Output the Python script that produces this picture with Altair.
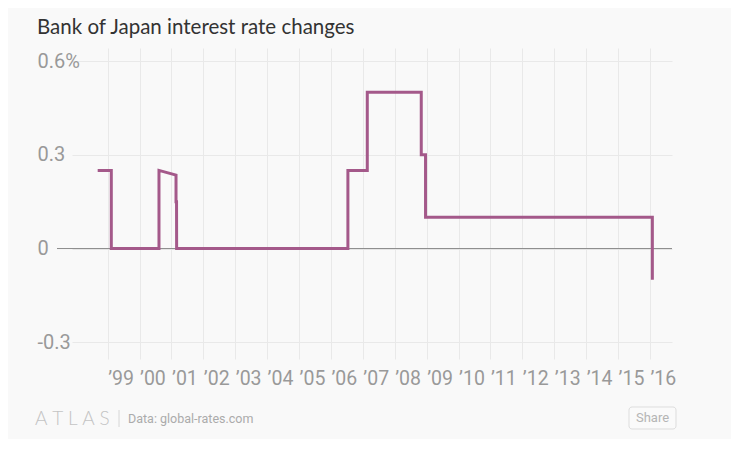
import altair as alt
import pandas as pd

# ---- data ----
dates = ["1998-09-09", "1999-02-12", "1999-02-12", "2000-08-11", "2000-08-11",
         "2001-02-22", "2001-02-22", "2001-02-28", "2001-03-01", "2006-07-14",
         "2006-07-14", "2007-02-21", "2007-02-21", "2008-10-31", "2008-10-31",
         "2008-12-19", "2008-12-19", "2016-01-29", "2016-01-29"]
rates = [0.25, 0.25, 0.0, 0.0, 0.25,
         0.235, 0.15, 0.15, 0.0, 0.0,
         0.25, 0.25, 0.5, 0.5, 0.3,
         0.3, 0.1, 0.1, -0.1]
x_tick_years = list(range(1999, 2017))
y_ticks = [-0.3, 0, 0.3, 0.6]
y_tick_labels = ["-0.3", "0", "0.3", "0.6%"]
title_text = "Bank of Japan interest rate changes"
source_text = "Data: global-rates.com"
logo_text = "A\u2005T\u2005L\u2005A\u2005S"
share_text = "Share"

df = pd.DataFrame({"date": dates, "rate": rates, "i": list(range(len(dates)))})

LABEL_FONT = "Roboto"
GRAY = "#999999"

label_expr = " : ".join(
    f"datum.value == {v} ? '{t}'" for v, t in zip(y_ticks, y_tick_labels)
) + " : ''"

x_scale = alt.Scale(domain=[alt.DateTime(year=1997, month=11, date=19),
                            alt.DateTime(year=2016, month=9, date=10)])
y_scale = alt.Scale(domain=[-0.3534, 0.6416], nice=False, zero=False)

x_axis = alt.Axis(
    values=[alt.DateTime(year=y, month=1, date=1) for y in x_tick_years],
    format="\u2019%y", labelAlign="left", labelBaseline="top", labelPadding=10,
    labelFont=LABEL_FONT, labelFontSize=19.5, labelColor=GRAY,
    ticks=False, domain=False, grid=True, gridColor="#e9e9e9", title=None,
    labelOverlap=False, labelFlush=False,
)
y_axis = alt.Axis(
    values=y_ticks, labelExpr=label_expr, labelAlign="left", labelBaseline="middle",
    labelPadding=35, labelFont=LABEL_FONT, labelFontSize=20, labelColor=GRAY,
    ticks=False, domain=False, grid=True, gridColor="#e9e9e9",
    title=None,
)

line = alt.Chart(df).mark_line(color="#a4598a", strokeWidth=3, interpolate="linear").encode(
    x=alt.X("date:T", scale=x_scale, axis=x_axis),
    y=alt.Y("rate:Q", scale=y_scale, axis=y_axis),
    order="i:Q",
)

zero = alt.Chart(pd.DataFrame({"v": [0]})).mark_rule(color="#8c8c8c", strokeWidth=1).encode(
    y=alt.Y("v:Q", scale=y_scale, axis=y_axis), x=alt.value(-15), x2=alt.value(600)
)

title = alt.Chart(pd.DataFrame({"t": [title_text]})).mark_text(
    align="left", baseline="alphabetic", font="Lato", fontSize=20.5, color="#333333"
).encode(text="t:N", x=alt.value(-35), y=alt.value(-14))

logo = alt.Chart(pd.DataFrame({"t": [logo_text]})).mark_text(
    align="left", baseline="middle", font="Lato", fontSize=19, fontWeight=300, color="#c4c4c4"
).encode(text="t:N", x=alt.value(-37), y=alt.value(371))

sep = alt.Chart(pd.DataFrame({"t": [1]})).mark_rule(color="#d6d6d6").encode(
    x=alt.value(47), y=alt.value(362), y2=alt.value(379)
)

source = alt.Chart(pd.DataFrame({"t": [source_text]})).mark_text(
    align="left", baseline="middle", font=LABEL_FONT, fontSize=12.5, color="#ababab"
).encode(text="t:N", x=alt.value(56), y=alt.value(371))

share_box = alt.Chart(pd.DataFrame({"t": [1]})).mark_rect(
    fill="#fafafa", stroke="#dddddd", strokeWidth=1, cornerRadius=3
).encode(x=alt.value(557), x2=alt.value(604), y=alt.value(359), y2=alt.value(381))

share = alt.Chart(pd.DataFrame({"t": [share_text]})).mark_text(
    align="center", baseline="middle", font=LABEL_FONT, fontSize=13, color="#b5b5b5"
).encode(text="t:N", x=alt.value(580.5), y=alt.value(370))

chart = alt.layer(zero, line, title, logo, sep, source, share_box, share).properties(
    width=600, height=311,
    autosize=alt.AutoSizeParams(type="none"),
    padding={"left": 64, "top": 40, "right": 59, "bottom": 80},
    background="#f9f9f9",
).configure_view(stroke=None)

chart.save("out.html", embed_options={"renderer": "svg", "actions": False})
